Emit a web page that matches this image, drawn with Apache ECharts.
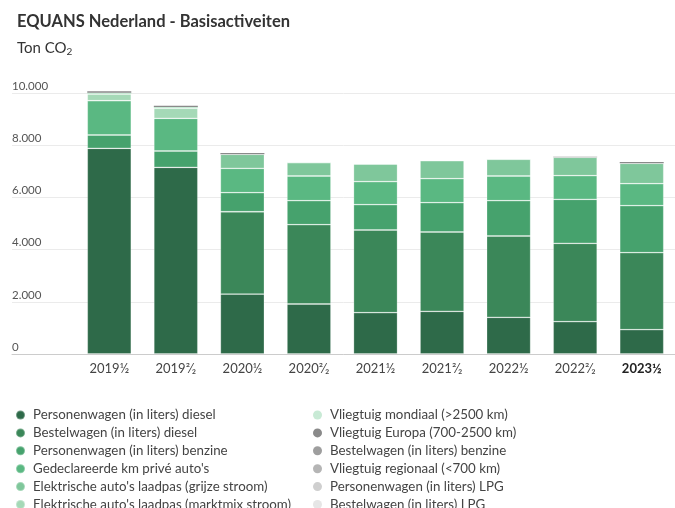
<!DOCTYPE html>
<html>
<head>
<meta charset="utf-8">
<script src="https://cdn.jsdelivr.net/npm/echarts@6/dist/echarts.min.js"></script>
<style>html,body{margin:0;padding:0;background:#fff}#c{width:675px;height:508px}</style>
</head>
<body>
<div id="c"></div>
<script>
var categories = ['2019½', '2019²⁄₂', '2020½', '2020²⁄₂', '2021½', '2021²⁄₂', '2022½', '2022²⁄₂', '2023½'];
var yTicks = [0, 2000, 4000, 6000, 8000, 10000];

var seriesNames = [
  'Personenwagen (in liters) diesel',
  'Bestelwagen (in liters) diesel',
  'Personenwagen (in liters) benzine',
  "Gedeclareerde km privé auto's",
  "Elektrische auto's laadpas (grijze stroom)",
  "Elektrische auto's laadpas (marktmix stroom)",
  'Vliegtuig mondiaal (>2500 km)',
  'Vliegtuig Europa (700-2500 km)',
  'Bestelwagen (in liters) benzine',
  'Vliegtuig regionaal (<700 km)',
  'Personenwagen (in liters) LPG',
  'Bestelwagen (in liters) LPG'
];
var personenDiesel   = [7890, 7160, 2300, 1918, 1585, 1636, 1407, 1240, 933];
var bestelDiesel     = [0, 0, 3157, 3042, 3172, 3044, 3119, 3005, 2954];
var personenBenzine  = [510, 627, 730, 920, 971, 1124, 1354, 1688, 1803];
var gedeclareerdeKm  = [1316, 1253, 935, 948, 882, 921, 948, 907, 842];
var laadpasGrijs     = [0, 0, 540, 510, 678, 690, 640, 705, 783];
var laadpasMarktmix  = [255, 385, 0, 0, 0, 0, 0, 0, 0];
var vliegMondiaal    = [50, 50, 0, 10, 0, 0, 10, 0, 0];
var vliegEuropa      = [55, 50, 45, 0, 0, 0, 0, 25, 50];
var bestelBenzine    = [0, 0, 0, 0, 0, 0, 0, 0, 0];
var vliegRegionaal   = [0, 0, 0, 0, 0, 0, 0, 0, 0];
var personenLPG      = [0, 0, 0, 0, 0, 0, 0, 0, 0];
var bestelLPG        = [0, 0, 0, 0, 0, 0, 0, 0, 0];

var seriesData = [personenDiesel, bestelDiesel, personenBenzine, gedeclareerdeKm, laadpasGrijs,
  laadpasMarktmix, vliegMondiaal, vliegEuropa, bestelBenzine, vliegRegionaal, personenLPG, bestelLPG];
var colors = ['#2e6a49', '#3b8759', '#46a26d', '#5ab882', '#7fc79b', '#a5d9b7',
  '#c8ead5', '#8a8a8a', '#9e9e9e', '#b5b5b5', '#cfcfcf', '#e6e6e6'];

var FONT = 'Lato';
function fmt(v) { return String(v).replace(/\B(?=(\d{3})+(?!\d))/g, '.'); }

var chart = echarts.init(document.getElementById('c'), null, {renderer: 'canvas'});
var series = seriesNames.map(function (n, i) {
  return {
    name: n, type: 'bar', stack: 'tot', xAxisIndex: 0, yAxisIndex: 0, clip: false,
    barWidth: 44, data: seriesData[i],
    itemStyle: {color: colors[i], borderColor: 'rgba(255,255,255,0.3)', borderWidth: (i >= 6 ? 0 : 0.8)},
    emphasis: {disabled: true}
  };
});

var legendText = {fontFamily: FONT, fontSize: 13.3, color: '#444', lineHeight: 14, padding: [0, 0, 0, 3]};

chart.setOption({
  animation: false,
  textStyle: {fontFamily: FONT},
  title: [
    {text: 'EQUANS Nederland - Basisactiveiten', left: 12, top: 8,
     textStyle: {fontFamily: FONT, fontSize: 16.5, fontWeight: 'bold', color: '#333'}},
    {text: 'Ton CO{s|2}', left: 12, top: 34,
     textStyle: {fontFamily: FONT, fontSize: 15, fontWeight: 'normal', color: '#333',
       rich: {s: {fontFamily: FONT, fontSize: 10, color: '#333', verticalAlign: 'bottom', padding: [8, 0, 0, 0]}}}}
  ],
  grid: [
    {left: 76, right: 0, top: 93.3, bottom: 154, containLabel: false},
    {left: 12, right: 0, top: 93.3, bottom: 154, containLabel: false}
  ],
  xAxis: [
    {type: 'category', gridIndex: 0, data: categories,
     axisLine: {show: false}, axisTick: {show: false}, z: 5,
     axisLabel: {interval: 0, hideOverlap: false, fontFamily: FONT, fontSize: 13, color: '#444', margin: 8,
       formatter: function (v, i) { return i === categories.length - 1 ? '{b|' + v + '}' : v; },
       rich: {b: {fontFamily: FONT, fontSize: 13, fontWeight: 'bold', color: '#222'}}}},
    {type: 'value', gridIndex: 1, min: 0, max: 1, show: true,
     axisLine: {show: true, onZero: false, lineStyle: {color: '#cccccc', width: 1}},
     axisTick: {show: false}, axisLabel: {show: false}, splitLine: {show: false}}
  ],
  yAxis: [
    {type: 'value', gridIndex: 0, min: 0, max: 10000, interval: 2000, show: false, splitLine: {show: false}},
    {type: 'value', gridIndex: 1, min: 0, max: 10000, interval: 2000,
     axisLine: {show: false}, axisTick: {show: false},
     splitLine: {show: true, lineStyle: {color: '#ebebeb', width: 1}},
     axisLabel: {inside: true, verticalAlign: 'bottom', margin: 0, padding: [0, 0, 1, 0],
       fontFamily: FONT, fontSize: 11.5, color: '#555', formatter: fmt}}
  ],
  legend: [
    {orient: 'vertical', left: 15, top: 408, height: 200, icon: 'circle', itemWidth: 9, itemHeight: 9, itemGap: 3.9,
     data: seriesNames.slice(0, 6), textStyle: legendText, selectedMode: false, padding: 0},
    {orient: 'vertical', left: 313, top: 408, height: 200, icon: 'circle', itemWidth: 9, itemHeight: 9, itemGap: 3.9,
     data: seriesNames.slice(6), textStyle: legendText, selectedMode: false, padding: 0}
  ],
  series: series
});
</script>
</body>
</html>
